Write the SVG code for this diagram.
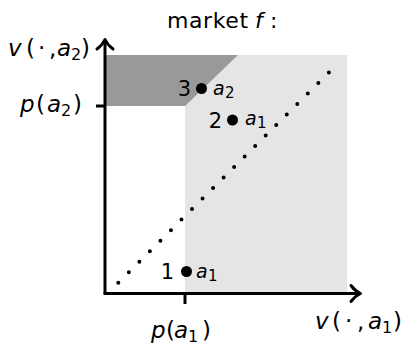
<svg xmlns="http://www.w3.org/2000/svg" width="405" height="346" viewBox="0 0 405 346">
<style>
text{font-family:"DejaVu Sans","Liberation Sans",sans-serif;fill:#000}
.lbl{font-size:23px}
.ttl{font-size:22px}
.num{font-size:21px}
.pt{font-size:19px}
.it{font-style:italic}
.sub{font-size:16px}
.psub{font-size:15px}
.axis{stroke:#000;stroke-width:3;fill:none}
.head{stroke:#000;stroke-width:3;fill:none;stroke-linecap:round;stroke-linejoin:round}
.dot{fill:#000}
</style>
<rect width="405" height="346" fill="#fff"/>
<g id="regions">
<rect x="185" y="55" width="162" height="238" fill="#e5e5e5"/>
<polygon points="105,55 238,55 185,106 105,106" fill="#999"/>
</g>
<g id="title"><text class="ttl" y="28"><tspan x="167" letter-spacing="0.6">market</tspan><tspan class="it" x="255">f</tspan><tspan x="270">:</tspan></text></g>
<g id="connectors">
<line id="diagonal" x1="118.3" y1="282.7" x2="339.3" y2="62" stroke="#000" stroke-width="4" stroke-linecap="round" stroke-dasharray="0 14.88"/>
<path class="axis" d="M105,293.5 V42"/>
<path class="axis" d="M103.5,293.5 H358"/>
<path class="head" d="M97,49 Q102.5,45 105,39.5 Q107.5,45 113,49"/>
<path class="head" d="M351,285.5 Q355,291 360.5,293.5 Q355,296 351,301.5"/>
<path class="axis" d="M96,106 H105"/>
<path class="axis" d="M185,293.5 V304"/>
</g>
<g id="axis-labels">
<text class="lbl" y="56"><tspan class="it" x="8">v</tspan><tspan x="26">(</tspan><tspan x="38">·</tspan><tspan x="49">,</tspan><tspan class="it" x="57">a</tspan><tspan class="sub" x="71" y="60">2</tspan><tspan x="81" y="56">)</tspan></text>
<text class="lbl" y="112"><tspan class="it" x="20">p</tspan><tspan x="36">(</tspan><tspan class="it" x="47">a</tspan><tspan class="sub" x="61" y="116">2</tspan><tspan x="73" y="112">)</tspan></text>
<text class="lbl" y="338"><tspan class="it" x="151">p</tspan><tspan x="166">(</tspan><tspan class="it" x="174">a</tspan><tspan class="sub" x="188" y="342">1</tspan><tspan x="202" y="338">)</tspan></text>
<text class="lbl" y="329"><tspan class="it" x="315">v</tspan><tspan x="332">(</tspan><tspan x="345">·</tspan><tspan x="357">,</tspan><tspan class="it" x="368">a</tspan><tspan class="sub" x="382" y="333">1</tspan><tspan x="393" y="329">)</tspan></text>
</g>
<g id="point3">
<circle class="dot" cx="201.5" cy="88.5" r="5.5"/>
<text class="num" x="191" y="96" text-anchor="end">3</text>
<text class="pt" y="95"><tspan class="it" x="213">a</tspan><tspan class="psub" x="225" y="98">2</tspan></text>
</g>
<g id="point2">
<circle class="dot" cx="232.5" cy="120" r="5.5"/>
<text class="num" x="222" y="128" text-anchor="end">2</text>
<text class="pt" y="125"><tspan class="it" x="245">a</tspan><tspan class="psub" x="257" y="128">1</tspan></text>
</g>
<g id="point1">
<circle class="dot" cx="186.5" cy="271.5" r="5.5"/>
<text class="num" x="174" y="279" text-anchor="end">1</text>
<text class="pt" y="278"><tspan class="it" x="196">a</tspan><tspan class="psub" x="208" y="281">1</tspan></text>
</g>
</svg>
